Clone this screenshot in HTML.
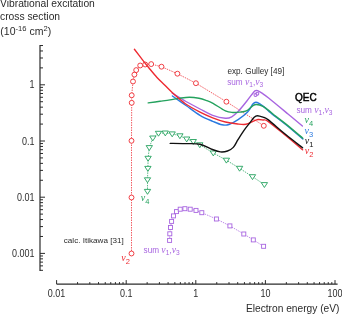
<!DOCTYPE html>
<html><head><meta charset="utf-8"><style>
html,body{margin:0;padding:0;background:#fff;}
svg{display:block;will-change:transform;}
</style></head><body>
<svg width="342" height="315" viewBox="0 0 342 315">
<line x1="40" y1="44.9" x2="40" y2="270.9" stroke="#2b2b2b" stroke-width="1.2"/>
<line x1="40" y1="270.32" x2="43" y2="270.32" stroke="#2b2b2b" stroke-width="1"/>
<line x1="40" y1="265.87" x2="43" y2="265.87" stroke="#2b2b2b" stroke-width="1"/>
<line x1="40" y1="262.11" x2="43" y2="262.11" stroke="#2b2b2b" stroke-width="1"/>
<line x1="40" y1="258.85" x2="43" y2="258.85" stroke="#2b2b2b" stroke-width="1"/>
<line x1="40" y1="255.97" x2="43" y2="255.97" stroke="#2b2b2b" stroke-width="1"/>
<line x1="40" y1="253.40" x2="45" y2="253.40" stroke="#2b2b2b" stroke-width="1"/>
<line x1="40" y1="236.48" x2="43" y2="236.48" stroke="#2b2b2b" stroke-width="1"/>
<line x1="40" y1="226.59" x2="43" y2="226.59" stroke="#2b2b2b" stroke-width="1"/>
<line x1="40" y1="219.56" x2="43" y2="219.56" stroke="#2b2b2b" stroke-width="1"/>
<line x1="40" y1="214.12" x2="43" y2="214.12" stroke="#2b2b2b" stroke-width="1"/>
<line x1="40" y1="209.67" x2="43" y2="209.67" stroke="#2b2b2b" stroke-width="1"/>
<line x1="40" y1="205.91" x2="43" y2="205.91" stroke="#2b2b2b" stroke-width="1"/>
<line x1="40" y1="202.65" x2="43" y2="202.65" stroke="#2b2b2b" stroke-width="1"/>
<line x1="40" y1="199.77" x2="43" y2="199.77" stroke="#2b2b2b" stroke-width="1"/>
<line x1="40" y1="197.20" x2="45" y2="197.20" stroke="#2b2b2b" stroke-width="1"/>
<line x1="40" y1="180.28" x2="43" y2="180.28" stroke="#2b2b2b" stroke-width="1"/>
<line x1="40" y1="170.39" x2="43" y2="170.39" stroke="#2b2b2b" stroke-width="1"/>
<line x1="40" y1="163.36" x2="43" y2="163.36" stroke="#2b2b2b" stroke-width="1"/>
<line x1="40" y1="157.92" x2="43" y2="157.92" stroke="#2b2b2b" stroke-width="1"/>
<line x1="40" y1="153.47" x2="43" y2="153.47" stroke="#2b2b2b" stroke-width="1"/>
<line x1="40" y1="149.71" x2="43" y2="149.71" stroke="#2b2b2b" stroke-width="1"/>
<line x1="40" y1="146.45" x2="43" y2="146.45" stroke="#2b2b2b" stroke-width="1"/>
<line x1="40" y1="143.57" x2="43" y2="143.57" stroke="#2b2b2b" stroke-width="1"/>
<line x1="40" y1="141.00" x2="45" y2="141.00" stroke="#2b2b2b" stroke-width="1"/>
<line x1="40" y1="124.08" x2="43" y2="124.08" stroke="#2b2b2b" stroke-width="1"/>
<line x1="40" y1="114.19" x2="43" y2="114.19" stroke="#2b2b2b" stroke-width="1"/>
<line x1="40" y1="107.16" x2="43" y2="107.16" stroke="#2b2b2b" stroke-width="1"/>
<line x1="40" y1="101.72" x2="43" y2="101.72" stroke="#2b2b2b" stroke-width="1"/>
<line x1="40" y1="97.27" x2="43" y2="97.27" stroke="#2b2b2b" stroke-width="1"/>
<line x1="40" y1="93.51" x2="43" y2="93.51" stroke="#2b2b2b" stroke-width="1"/>
<line x1="40" y1="90.25" x2="43" y2="90.25" stroke="#2b2b2b" stroke-width="1"/>
<line x1="40" y1="87.37" x2="43" y2="87.37" stroke="#2b2b2b" stroke-width="1"/>
<line x1="40" y1="84.80" x2="45" y2="84.80" stroke="#2b2b2b" stroke-width="1"/>
<line x1="40" y1="67.88" x2="43" y2="67.88" stroke="#2b2b2b" stroke-width="1"/>
<line x1="40" y1="57.99" x2="43" y2="57.99" stroke="#2b2b2b" stroke-width="1"/>
<line x1="40" y1="50.96" x2="43" y2="50.96" stroke="#2b2b2b" stroke-width="1"/>
<line x1="40" y1="45.52" x2="43" y2="45.52" stroke="#2b2b2b" stroke-width="1"/>
<line x1="56.6" y1="284.1" x2="337.6" y2="284.1" stroke="#2b2b2b" stroke-width="1.2"/>
<line x1="56.60" y1="284.1" x2="56.60" y2="280.1" stroke="#2b2b2b" stroke-width="1"/>
<line x1="77.55" y1="284.1" x2="77.55" y2="282.1" stroke="#2b2b2b" stroke-width="1"/>
<line x1="89.81" y1="284.1" x2="89.81" y2="282.1" stroke="#2b2b2b" stroke-width="1"/>
<line x1="98.50" y1="284.1" x2="98.50" y2="282.1" stroke="#2b2b2b" stroke-width="1"/>
<line x1="105.25" y1="284.1" x2="105.25" y2="282.1" stroke="#2b2b2b" stroke-width="1"/>
<line x1="110.76" y1="284.1" x2="110.76" y2="282.1" stroke="#2b2b2b" stroke-width="1"/>
<line x1="115.42" y1="284.1" x2="115.42" y2="282.1" stroke="#2b2b2b" stroke-width="1"/>
<line x1="119.46" y1="284.1" x2="119.46" y2="282.1" stroke="#2b2b2b" stroke-width="1"/>
<line x1="123.02" y1="284.1" x2="123.02" y2="282.1" stroke="#2b2b2b" stroke-width="1"/>
<line x1="126.20" y1="284.1" x2="126.20" y2="280.1" stroke="#2b2b2b" stroke-width="1"/>
<line x1="147.15" y1="284.1" x2="147.15" y2="282.1" stroke="#2b2b2b" stroke-width="1"/>
<line x1="159.41" y1="284.1" x2="159.41" y2="282.1" stroke="#2b2b2b" stroke-width="1"/>
<line x1="168.10" y1="284.1" x2="168.10" y2="282.1" stroke="#2b2b2b" stroke-width="1"/>
<line x1="174.85" y1="284.1" x2="174.85" y2="282.1" stroke="#2b2b2b" stroke-width="1"/>
<line x1="180.36" y1="284.1" x2="180.36" y2="282.1" stroke="#2b2b2b" stroke-width="1"/>
<line x1="185.02" y1="284.1" x2="185.02" y2="282.1" stroke="#2b2b2b" stroke-width="1"/>
<line x1="189.06" y1="284.1" x2="189.06" y2="282.1" stroke="#2b2b2b" stroke-width="1"/>
<line x1="192.62" y1="284.1" x2="192.62" y2="282.1" stroke="#2b2b2b" stroke-width="1"/>
<line x1="195.80" y1="284.1" x2="195.80" y2="280.1" stroke="#2b2b2b" stroke-width="1"/>
<line x1="216.75" y1="284.1" x2="216.75" y2="282.1" stroke="#2b2b2b" stroke-width="1"/>
<line x1="229.01" y1="284.1" x2="229.01" y2="282.1" stroke="#2b2b2b" stroke-width="1"/>
<line x1="237.70" y1="284.1" x2="237.70" y2="282.1" stroke="#2b2b2b" stroke-width="1"/>
<line x1="244.45" y1="284.1" x2="244.45" y2="282.1" stroke="#2b2b2b" stroke-width="1"/>
<line x1="249.96" y1="284.1" x2="249.96" y2="282.1" stroke="#2b2b2b" stroke-width="1"/>
<line x1="254.62" y1="284.1" x2="254.62" y2="282.1" stroke="#2b2b2b" stroke-width="1"/>
<line x1="258.66" y1="284.1" x2="258.66" y2="282.1" stroke="#2b2b2b" stroke-width="1"/>
<line x1="262.22" y1="284.1" x2="262.22" y2="282.1" stroke="#2b2b2b" stroke-width="1"/>
<line x1="265.40" y1="284.1" x2="265.40" y2="280.1" stroke="#2b2b2b" stroke-width="1"/>
<line x1="286.35" y1="284.1" x2="286.35" y2="282.1" stroke="#2b2b2b" stroke-width="1"/>
<line x1="298.61" y1="284.1" x2="298.61" y2="282.1" stroke="#2b2b2b" stroke-width="1"/>
<line x1="307.30" y1="284.1" x2="307.30" y2="282.1" stroke="#2b2b2b" stroke-width="1"/>
<line x1="314.05" y1="284.1" x2="314.05" y2="282.1" stroke="#2b2b2b" stroke-width="1"/>
<line x1="319.56" y1="284.1" x2="319.56" y2="282.1" stroke="#2b2b2b" stroke-width="1"/>
<line x1="324.22" y1="284.1" x2="324.22" y2="282.1" stroke="#2b2b2b" stroke-width="1"/>
<line x1="328.26" y1="284.1" x2="328.26" y2="282.1" stroke="#2b2b2b" stroke-width="1"/>
<line x1="331.82" y1="284.1" x2="331.82" y2="282.1" stroke="#2b2b2b" stroke-width="1"/>
<line x1="335.00" y1="284.1" x2="335.00" y2="280.1" stroke="#2b2b2b" stroke-width="1"/>
<path d="M131.50,253.50 L131.50,197.50 L131.50,140.80 L131.70,102.80 L131.70,95.30 L133.00,81.50 L134.40,74.60 L136.20,70.10 L140.20,65.50 L145.20,64.50 L151.20,64.10 L161.50,66.70 L177.40,73.70 L195.90,83.20 L226.40,101.70 L263.80,125.80" fill="none" stroke="#ee2a31" stroke-width="0.75" stroke-dasharray="1.5 1"/>
<path d="M147.50,191.40 L147.50,179.80 L147.90,168.40 L148.10,158.30 L149.30,147.60 L152.80,138.00 L158.50,133.30 L165.30,133.00 L172.20,133.90 L179.90,135.80 L186.70,139.00 L193.30,141.50 L199.80,144.80 L213.30,153.00 L226.40,160.20 L239.60,168.30 L252.50,176.70 L264.40,184.60" fill="none" stroke="#24a25e" stroke-width="0.75" stroke-dasharray="1.5 1"/>
<path d="M169.60,240.40 L169.80,233.80 L170.50,227.50 L171.60,221.40 L173.50,215.90 L176.50,211.60 L180.20,209.20 L184.90,208.70 L190.20,209.20 L196.00,210.40 L201.80,212.70 L216.40,219.00 L229.90,225.90 L243.80,234.00 L253.30,239.90 L263.60,246.30" fill="none" stroke="#a865e0" stroke-width="0.75" stroke-dasharray="1.5 1"/>
<circle cx="131.5" cy="253.5" r="2.45" fill="#fff" stroke="#ee2a31" stroke-width="0.9"/>
<circle cx="131.5" cy="197.5" r="2.45" fill="#fff" stroke="#ee2a31" stroke-width="0.9"/>
<circle cx="131.5" cy="140.8" r="2.45" fill="#fff" stroke="#ee2a31" stroke-width="0.9"/>
<circle cx="131.7" cy="102.8" r="2.45" fill="#fff" stroke="#ee2a31" stroke-width="0.9"/>
<circle cx="131.7" cy="95.3" r="2.45" fill="#fff" stroke="#ee2a31" stroke-width="0.9"/>
<circle cx="133" cy="81.5" r="2.45" fill="#fff" stroke="#ee2a31" stroke-width="0.9"/>
<circle cx="134.4" cy="74.6" r="2.45" fill="#fff" stroke="#ee2a31" stroke-width="0.9"/>
<circle cx="136.2" cy="70.1" r="2.45" fill="#fff" stroke="#ee2a31" stroke-width="0.9"/>
<circle cx="140.2" cy="65.5" r="2.45" fill="#fff" stroke="#ee2a31" stroke-width="0.9"/>
<circle cx="145.2" cy="64.5" r="2.45" fill="#fff" stroke="#ee2a31" stroke-width="0.9"/>
<circle cx="151.2" cy="64.1" r="2.45" fill="#fff" stroke="#ee2a31" stroke-width="0.9"/>
<circle cx="161.5" cy="66.7" r="2.45" fill="#fff" stroke="#ee2a31" stroke-width="0.9"/>
<circle cx="177.4" cy="73.7" r="2.45" fill="#fff" stroke="#ee2a31" stroke-width="0.9"/>
<circle cx="195.9" cy="83.2" r="2.45" fill="#fff" stroke="#ee2a31" stroke-width="0.9"/>
<circle cx="226.4" cy="101.7" r="2.45" fill="#fff" stroke="#ee2a31" stroke-width="0.9"/>
<circle cx="263.8" cy="125.8" r="2.45" fill="#fff" stroke="#ee2a31" stroke-width="0.9"/>
<path d="M144.35,189.40 L150.65,189.40 L147.50,194.30 Z" fill="#fff" stroke="#24a25e" stroke-width="0.9"/>
<path d="M144.35,177.80 L150.65,177.80 L147.50,182.70 Z" fill="#fff" stroke="#24a25e" stroke-width="0.9"/>
<path d="M144.75,166.40 L151.05,166.40 L147.90,171.30 Z" fill="#fff" stroke="#24a25e" stroke-width="0.9"/>
<path d="M144.95,156.30 L151.25,156.30 L148.10,161.20 Z" fill="#fff" stroke="#24a25e" stroke-width="0.9"/>
<path d="M146.15,145.60 L152.45,145.60 L149.30,150.50 Z" fill="#fff" stroke="#24a25e" stroke-width="0.9"/>
<path d="M149.65,136.00 L155.95,136.00 L152.80,140.90 Z" fill="#fff" stroke="#24a25e" stroke-width="0.9"/>
<path d="M155.35,131.30 L161.65,131.30 L158.50,136.20 Z" fill="#fff" stroke="#24a25e" stroke-width="0.9"/>
<path d="M162.15,131.00 L168.45,131.00 L165.30,135.90 Z" fill="#fff" stroke="#24a25e" stroke-width="0.9"/>
<path d="M169.05,131.90 L175.35,131.90 L172.20,136.80 Z" fill="#fff" stroke="#24a25e" stroke-width="0.9"/>
<path d="M176.75,133.80 L183.05,133.80 L179.90,138.70 Z" fill="#fff" stroke="#24a25e" stroke-width="0.9"/>
<path d="M183.55,137.00 L189.85,137.00 L186.70,141.90 Z" fill="#fff" stroke="#24a25e" stroke-width="0.9"/>
<path d="M190.15,139.50 L196.45,139.50 L193.30,144.40 Z" fill="#fff" stroke="#24a25e" stroke-width="0.9"/>
<path d="M196.65,142.80 L202.95,142.80 L199.80,147.70 Z" fill="#fff" stroke="#24a25e" stroke-width="0.9"/>
<path d="M210.15,151.00 L216.45,151.00 L213.30,155.90 Z" fill="#fff" stroke="#24a25e" stroke-width="0.9"/>
<path d="M223.25,158.20 L229.55,158.20 L226.40,163.10 Z" fill="#fff" stroke="#24a25e" stroke-width="0.9"/>
<path d="M236.45,166.30 L242.75,166.30 L239.60,171.20 Z" fill="#fff" stroke="#24a25e" stroke-width="0.9"/>
<path d="M249.35,174.70 L255.65,174.70 L252.50,179.60 Z" fill="#fff" stroke="#24a25e" stroke-width="0.9"/>
<path d="M261.25,182.60 L267.55,182.60 L264.40,187.50 Z" fill="#fff" stroke="#24a25e" stroke-width="0.9"/>
<rect x="167.60" y="238.40" width="4.0" height="4.0" fill="#fff" stroke="#a865e0" stroke-width="0.9"/>
<rect x="167.80" y="231.80" width="4.0" height="4.0" fill="#fff" stroke="#a865e0" stroke-width="0.9"/>
<rect x="168.50" y="225.50" width="4.0" height="4.0" fill="#fff" stroke="#a865e0" stroke-width="0.9"/>
<rect x="169.60" y="219.40" width="4.0" height="4.0" fill="#fff" stroke="#a865e0" stroke-width="0.9"/>
<rect x="171.50" y="213.90" width="4.0" height="4.0" fill="#fff" stroke="#a865e0" stroke-width="0.9"/>
<rect x="174.50" y="209.60" width="4.0" height="4.0" fill="#fff" stroke="#a865e0" stroke-width="0.9"/>
<rect x="178.20" y="207.20" width="4.0" height="4.0" fill="#fff" stroke="#a865e0" stroke-width="0.9"/>
<rect x="182.90" y="206.70" width="4.0" height="4.0" fill="#fff" stroke="#a865e0" stroke-width="0.9"/>
<rect x="188.20" y="207.20" width="4.0" height="4.0" fill="#fff" stroke="#a865e0" stroke-width="0.9"/>
<rect x="194.00" y="208.40" width="4.0" height="4.0" fill="#fff" stroke="#a865e0" stroke-width="0.9"/>
<rect x="199.80" y="210.70" width="4.0" height="4.0" fill="#fff" stroke="#a865e0" stroke-width="0.9"/>
<rect x="214.40" y="217.00" width="4.0" height="4.0" fill="#fff" stroke="#a865e0" stroke-width="0.9"/>
<rect x="227.90" y="223.90" width="4.0" height="4.0" fill="#fff" stroke="#a865e0" stroke-width="0.9"/>
<rect x="241.80" y="232.00" width="4.0" height="4.0" fill="#fff" stroke="#a865e0" stroke-width="0.9"/>
<rect x="251.30" y="237.90" width="4.0" height="4.0" fill="#fff" stroke="#a865e0" stroke-width="0.9"/>
<rect x="261.60" y="244.30" width="4.0" height="4.0" fill="#fff" stroke="#a865e0" stroke-width="0.9"/>
<path d="M172.20,93.20 C174.50,94.58 181.37,98.87 186.00,101.50 C190.63,104.13 195.55,106.70 200.00,109.00 C204.45,111.30 208.47,113.77 212.70,115.30 C216.93,116.83 222.23,117.95 225.40,118.20 C228.57,118.45 229.58,117.92 231.70,116.80 C233.82,115.68 235.63,114.05 238.10,111.50 C240.57,108.95 243.92,104.72 246.50,101.50 C249.08,98.28 252.08,94.02 253.60,92.20 C255.12,90.38 254.93,90.85 255.60,90.60 C256.27,90.35 256.53,90.27 257.60,90.70 C258.67,91.13 260.17,91.98 262.00,93.20 C263.83,94.42 264.27,94.53 268.60,98.00 C272.93,101.47 282.37,109.33 288.00,114.00 C293.63,118.67 300.00,124.00 302.40,126.00" fill="none" stroke="#a865e0" stroke-width="1.4" stroke-linecap="round" stroke-linejoin="round"/>
<path d="M172.40,96.00 C174.67,97.58 181.40,102.28 186.00,105.50 C190.60,108.72 195.55,112.67 200.00,115.30 C204.45,117.93 209.03,119.72 212.70,121.30 C216.37,122.88 219.28,124.27 222.00,124.80 C224.72,125.33 226.32,125.35 229.00,124.50 C231.68,123.65 235.00,121.77 238.10,119.70 C241.20,117.63 245.13,114.72 247.60,112.10 C250.07,109.48 251.52,105.65 252.90,104.00 C254.28,102.35 254.80,102.25 255.90,102.20 C257.00,102.15 258.15,102.92 259.50,103.70 C260.85,104.48 262.38,105.58 264.00,106.90 C265.62,108.22 267.52,110.13 269.20,111.60 C270.88,113.07 271.30,113.50 274.10,115.70 C276.90,117.90 281.22,120.92 286.00,124.80 C290.78,128.68 300.00,136.63 302.80,139.00" fill="none" stroke="#2b7ae0" stroke-width="1.4" stroke-linecap="round" stroke-linejoin="round"/>
<path d="M148.20,102.90 C150.17,102.63 156.37,101.80 160.00,101.30 C163.63,100.80 166.67,100.42 170.00,99.90 C173.33,99.38 176.75,98.63 180.00,98.20 C183.25,97.77 186.33,97.28 189.50,97.30 C192.67,97.32 196.25,97.80 199.00,98.30 C201.75,98.80 203.67,99.47 206.00,100.30 C208.33,101.13 209.77,101.53 213.00,103.30 C216.23,105.07 222.07,109.37 225.40,110.90 C228.73,112.43 230.57,112.30 233.00,112.50 C235.43,112.70 237.78,112.37 240.00,112.10 C242.22,111.83 244.18,111.95 246.30,110.90 C248.42,109.85 251.00,106.87 252.70,105.80 C254.40,104.73 254.80,104.40 256.50,104.50 C258.20,104.60 260.78,105.33 262.90,106.40 C265.02,107.47 267.33,109.47 269.20,110.90 C271.07,112.33 271.30,112.80 274.10,115.00 C276.90,117.20 281.22,120.23 286.00,124.10 C290.78,127.97 300.00,135.85 302.80,138.20" fill="none" stroke="#24a25e" stroke-width="1.4" stroke-linecap="round" stroke-linejoin="round"/>
<path d="M134.40,49.30 C135.78,51.10 140.27,56.98 142.70,60.10 C145.13,63.22 146.62,65.10 149.00,68.00 C151.38,70.90 154.40,74.67 157.00,77.50 C159.60,80.33 161.98,82.42 164.60,85.00 C167.22,87.58 169.30,89.92 172.70,93.00 C176.10,96.08 180.45,100.32 185.00,103.50 C189.55,106.68 195.38,109.72 200.00,112.10 C204.62,114.48 208.47,116.15 212.70,117.80 C216.93,119.45 221.23,120.97 225.40,122.00 C229.57,123.03 234.27,123.62 237.70,124.00 C241.13,124.38 243.47,124.73 246.00,124.30 C248.53,123.87 250.90,122.20 252.90,121.40 C254.90,120.60 256.32,119.73 258.00,119.50 C259.68,119.27 261.33,119.70 263.00,120.00 C264.67,120.30 264.17,118.67 268.00,121.30 C271.83,123.93 280.23,131.05 286.00,135.80 C291.77,140.55 299.83,147.47 302.60,149.80" fill="none" stroke="#ee2a31" stroke-width="1.4" stroke-linecap="round" stroke-linejoin="round"/>
<path d="M170.20,143.40 C172.67,143.43 180.03,143.47 185.00,143.60 C189.97,143.73 195.42,143.22 200.00,144.20 C204.58,145.18 209.10,148.22 212.50,149.50 C215.90,150.78 217.90,151.65 220.40,151.90 C222.90,152.15 225.35,151.75 227.50,151.00 C229.65,150.25 231.55,149.30 233.30,147.40 C235.05,145.50 236.22,142.45 238.00,139.60 C239.78,136.75 241.93,133.22 244.00,130.30 C246.07,127.38 248.70,124.28 250.40,122.10 C252.10,119.92 253.03,118.27 254.20,117.20 C255.37,116.13 255.93,115.70 257.40,115.70 C258.87,115.70 261.23,116.55 263.00,117.20 C264.77,117.85 264.17,116.67 268.00,119.60 C271.83,122.53 280.23,130.10 286.00,134.80 C291.77,139.50 299.83,145.63 302.60,147.80" fill="none" stroke="#111" stroke-width="1.4" stroke-linecap="round" stroke-linejoin="round"/>
<circle cx="255.5" cy="94.9" r="1.5" fill="none" stroke="#a865e0" stroke-width="1.05"/>
<circle cx="257.3" cy="93.8" r="1.5" fill="none" stroke="#a865e0" stroke-width="1.05"/>
<text transform="translate(34.4,88.3) scale(0.9,1)" font-size="10" fill="#2b2b2b" text-anchor="end" font-family="Liberation Sans, sans-serif" >1</text>
<text transform="translate(34.4,144.5) scale(0.9,1)" font-size="10" fill="#2b2b2b" text-anchor="end" font-family="Liberation Sans, sans-serif" >0.1</text>
<text transform="translate(34.4,200.7) scale(0.9,1)" font-size="10" fill="#2b2b2b" text-anchor="end" font-family="Liberation Sans, sans-serif" >0.01</text>
<text transform="translate(34.4,256.90000000000003) scale(0.9,1)" font-size="10" fill="#2b2b2b" text-anchor="end" font-family="Liberation Sans, sans-serif" >0.001</text>
<text transform="translate(56.6,296.8) scale(0.9,1)" font-size="10" fill="#2b2b2b" text-anchor="middle" font-family="Liberation Sans, sans-serif" >0.01</text>
<text transform="translate(126.2,296.8) scale(0.9,1)" font-size="10" fill="#2b2b2b" text-anchor="middle" font-family="Liberation Sans, sans-serif" >0.1</text>
<text transform="translate(195.8,296.8) scale(0.9,1)" font-size="10" fill="#2b2b2b" text-anchor="middle" font-family="Liberation Sans, sans-serif" >1</text>
<text transform="translate(265.4,296.8) scale(0.9,1)" font-size="10" fill="#2b2b2b" text-anchor="middle" font-family="Liberation Sans, sans-serif" >10</text>
<text transform="translate(335.0,296.8) scale(0.9,1)" font-size="10" fill="#2b2b2b" text-anchor="middle" font-family="Liberation Sans, sans-serif" >100</text>
<text x="339.4" y="312.3" font-size="10.2" fill="#2b2b2b" text-anchor="end" font-family="Liberation Sans, sans-serif" >Electron energy (eV)</text>
<text x="0" y="7.2" font-size="10.3" fill="#2b2b2b" text-anchor="start" font-family="Liberation Sans, sans-serif" >Vibrational excitation</text>
<text x="0" y="20.3" font-size="10.3" fill="#2b2b2b" text-anchor="start" font-family="Liberation Sans, sans-serif" >cross section</text>
<text x="0.3" y="35" font-size="10.5" fill="#2b2b2b" font-family="Liberation Sans, sans-serif">(10<tspan font-size="7.6" dy="-4.3">-16</tspan><tspan dy="4.3"> cm</tspan><tspan font-size="7.6" dy="-4.3">2</tspan><tspan dy="4.3">)</tspan></text>
<text x="227.4" y="74.3" font-size="8.2" fill="#2b2b2b" text-anchor="start" font-family="Liberation Sans, sans-serif" >exp. Gulley [49]</text>
<text x="63.8" y="242.9" font-size="8.1" fill="#2b2b2b" text-anchor="start" font-family="Liberation Sans, sans-serif" >calc. Itikawa [31]</text>
<text x="295" y="100.6" font-size="10" fill="#000" stroke="#000" stroke-width="0.45" font-family="Liberation Sans, sans-serif">QEC</text>
<text x="227.2" y="85" font-size="8.2" fill="#a865e0" font-family="Liberation Sans, sans-serif">sum <tspan font-family="Liberation Serif, serif" font-style="italic" font-size="9.8">&#957;</tspan><tspan font-size="6.6" dy="2.2">1</tspan><tspan dy="-2.2">,</tspan><tspan font-family="Liberation Serif, serif" font-style="italic" font-size="9.8">&#957;</tspan><tspan font-size="6.6" dy="2.2">3</tspan></text>
<text x="296.4" y="112.5" font-size="8.2" fill="#a865e0" font-family="Liberation Sans, sans-serif">sum <tspan font-family="Liberation Serif, serif" font-style="italic" font-size="9.8">&#957;</tspan><tspan font-size="6.6" dy="2.2">1</tspan><tspan dy="-2.2">,</tspan><tspan font-family="Liberation Serif, serif" font-style="italic" font-size="9.8">&#957;</tspan><tspan font-size="6.6" dy="2.2">3</tspan></text>
<text x="143.6" y="252.5" font-size="8.2" fill="#a865e0" font-family="Liberation Sans, sans-serif">sum <tspan font-family="Liberation Serif, serif" font-style="italic" font-size="9.8">&#957;</tspan><tspan font-size="6.6" dy="2.2">1</tspan><tspan dy="-2.2">,</tspan><tspan font-family="Liberation Serif, serif" font-style="italic" font-size="9.8">&#957;</tspan><tspan font-size="6.6" dy="2.2">3</tspan></text>
<text x="304.6" y="123.4" font-size="10" fill="#24a25e" font-family="Liberation Sans, sans-serif"><tspan font-family="Liberation Serif, serif" font-style="italic">&#957;</tspan><tspan font-size="7.5" dy="3">4</tspan></text>
<text x="304.6" y="133.6" font-size="10" fill="#2b7ae0" font-family="Liberation Sans, sans-serif"><tspan font-family="Liberation Serif, serif" font-style="italic">&#957;</tspan><tspan font-size="7.5" dy="3">3</tspan></text>
<text x="304.8" y="143.6" font-size="10" fill="#111" font-family="Liberation Sans, sans-serif"><tspan font-family="Liberation Serif, serif" font-style="italic">&#957;</tspan><tspan font-size="7.5" dy="3">1</tspan></text>
<text x="304.8" y="153.8" font-size="10" fill="#ee2a31" font-family="Liberation Sans, sans-serif"><tspan font-family="Liberation Serif, serif" font-style="italic">&#957;</tspan><tspan font-size="7.5" dy="3">2</tspan></text>
<text x="140.8" y="201.2" font-size="10" fill="#24a25e" font-family="Liberation Sans, sans-serif"><tspan font-family="Liberation Serif, serif" font-style="italic">&#957;</tspan><tspan font-size="7.5" dy="3">4</tspan></text>
<text x="121.2" y="261" font-size="10" fill="#ee2a31" font-family="Liberation Sans, sans-serif"><tspan font-family="Liberation Serif, serif" font-style="italic">&#957;</tspan><tspan font-size="7.5" dy="3">2</tspan></text>
</svg>
</body></html>
